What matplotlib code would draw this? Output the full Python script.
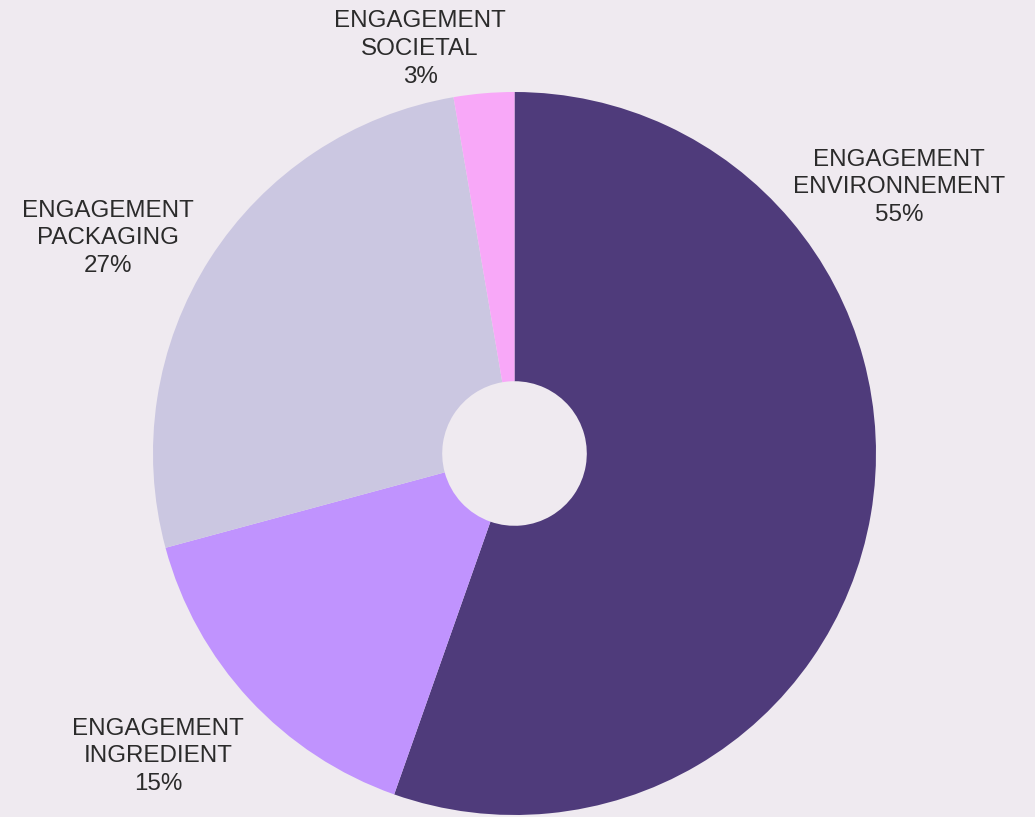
import matplotlib
matplotlib.use('Agg')
from matplotlib import pyplot as plt

# categories and shares (%)
labels = ['ENGAGEMENT\nENVIRONNEMENT', 'ENGAGEMENT\nINGREDIENT',
          'ENGAGEMENT\nPACKAGING', 'ENGAGEMENT\nSOCIETAL']
shares = [55.4, 15.4, 26.5, 2.7]
pct_labels = ['55%', '15%', '27%', '3%']
colors = ['#4f3b7b', '#c093fe', '#cbc7e1', '#f8a8f8']

# label anchor points, in pie radius units
label_pos = [(1.064, 0.736), (-0.986, -0.838), (-1.124, 0.595), (-0.261, 1.119)]

bg = '#efeaf0'
plt.rcParams['font.family'] = ['Liberation Sans', 'DejaVu Sans']

fig = plt.figure(figsize=(10.35, 8.17), dpi=100, facecolor=bg)
ax = fig.add_axes([0, 0, 1, 1])
ax.set_facecolor(bg)

ax.pie(shares, colors=colors, startangle=90, counterclock=False,
       radius=1.0, wedgeprops=dict(width=0.8, linewidth=0, antialiased=True))

for lab, pct, (x, y) in zip(labels, pct_labels, label_pos):
    ax.text(x, y, lab + '\n' + pct, ha='center', va='center',
            fontsize=17.4, color='#2b2b2b', linespacing=1.33)

# map pie center / radius onto the picture
r = 361.5
cx, cy = 514.5, 453.5
ax.set_xlim(-cx / r, (1035 - cx) / r)
ax.set_ylim(-(817 - cy) / r, cy / r)
ax.set_aspect('auto')
ax.axis('off')

plt.savefig('out.png', dpi=100, facecolor=bg)
plt.close('all')
